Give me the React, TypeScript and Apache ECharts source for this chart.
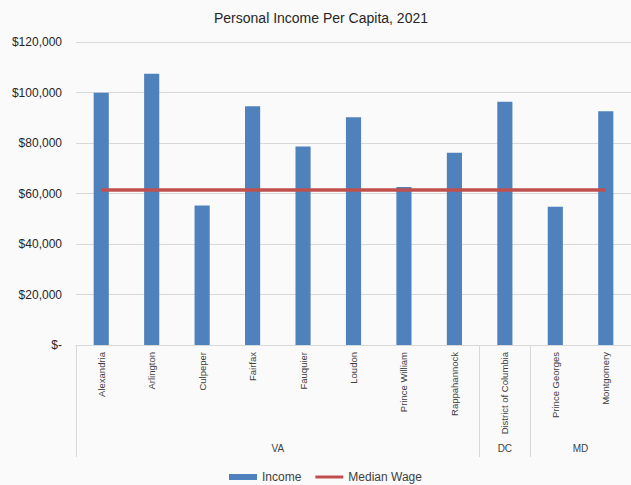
import React, { useEffect, useRef } from "react";
import * as echarts from "echarts";

const categories = [
  "Alexandria",
  "Arlington",
  "Culpeper",
  "Fairfax",
  "Fauquier",
  "Loudon",
  "Prince William",
  "Rappahannock",
  "District of Columbia",
  "Prince Georges",
  "Montgomery",
];
const incomeValues = [99900, 107400, 55200, 94600, 78600, 90200, 62600, 76100, 96300, 54800, 92600];
const medianWage = 61400;
const groupNames = ["VA", "DC", "MD"];
const groupSizes = [8, 1, 2];
const yTicks = [0, 20000, 40000, 60000, 80000, 100000, 120000];

export default function App() {
  const ref = useRef<HTMLDivElement>(null);
  useEffect(() => {
    if (!ref.current) return;
    const chart = echarts.init(ref.current, null, { renderer: "svg" });
    const boundaries: number[] = [0];
    const centers: number[] = [];
    let acc = 0;
    groupSizes.forEach((s) => {
      centers.push(acc + s / 2);
      acc += s;
      boundaries.push(acc);
    });
    const font = "Liberation Sans";
    chart.setOption({
      animation: false,
      backgroundColor: "#fafafa",
      textStyle: { fontFamily: font },
      title: {
        text: "Personal Income Per Capita, 2021",
        left: 209,
        top: 6,
        textStyle: { fontFamily: font, fontSize: 14, fontWeight: "normal", color: "#262626" },
      },
      legend: {
        left: 224,
        top: 466,
        itemGap: 14,
        itemWidth: 28,
        itemHeight: 6,
        textStyle: { fontFamily: font, fontSize: 12, color: "#404040" },
        data: [
          { name: "Income", icon: "rect" },
          { name: "Median Wage", icon: "path://M0,0 M0,6 M0,1.5 L28,1.5 L28,4.5 L0,4.5 Z" },
        ],
      },
      grid: { left: 76, right: 0, top: 42, bottom: 140, containLabel: false },
      xAxis: [
        {
          type: "category",
          data: categories,
          boundaryGap: true,
          axisLine: { show: true, lineStyle: { color: "#d9d9d9", width: 1 } },
          axisTick: { show: false },
          axisLabel: {
            interval: 0,
            rotate: 90,
            margin: 7,
            fontSize: 9.5,
            fontFamily: font,
            color: "#404040",
          },
          splitLine: { show: false },
        },
        {
          type: "value",
          position: "bottom",
          min: 0,
          max: categories.length,
          axisLine: { show: false },
          splitLine: { show: false },
          axisTick: {
            show: true,
            customValues: boundaries,
            length: 112,
            lineStyle: { color: "#d9d9d9", width: 1 },
          },
          axisLabel: {
            show: true,
            customValues: centers,
            margin: 98,
            fontSize: 10,
            fontFamily: font,
            color: "#404040",
            formatter: (v: number) => {
              const i = centers.findIndex((c) => Math.abs(c - v) < 1e-6);
              return i >= 0 ? groupNames[i] : "";
            },
          },
        },
      ],
      yAxis: {
        type: "value",
        min: yTicks[0],
        max: yTicks[yTicks.length - 1],
        interval: yTicks[1] - yTicks[0],
        axisLine: { show: false },
        axisTick: { show: false },
        splitLine: { lineStyle: { color: "#d9d9d9", width: 1 } },
        axisLabel: {
          margin: 14,
          fontSize: 12,
          fontFamily: font,
          color: "#262626",
          formatter: (v: number) => (v === 0 ? "$-" : "$" + v.toLocaleString("en-US")),
        },
      },
      series: [
        {
          name: "Income",
          type: "bar",
          xAxisIndex: 0,
          data: incomeValues,
          barWidth: "30%",
          itemStyle: { color: "#4f81bd" },
          z: 2,
        },
        {
          name: "Median Wage",
          type: "line",
          xAxisIndex: 0,
          data: categories.map(() => medianWage),
          symbol: "none",
          showSymbol: false,
          lineStyle: { color: "#c0504d", width: 3.5 },
          itemStyle: { color: "#c0504d" },
          z: 3,
        },
      ],
    });
    return () => chart.dispose();
  }, []);
  return (
    <div
      ref={ref}
      style={{ position: "fixed", left: 0, top: 0, width: 631, height: 485 }}
    />
  );
}
